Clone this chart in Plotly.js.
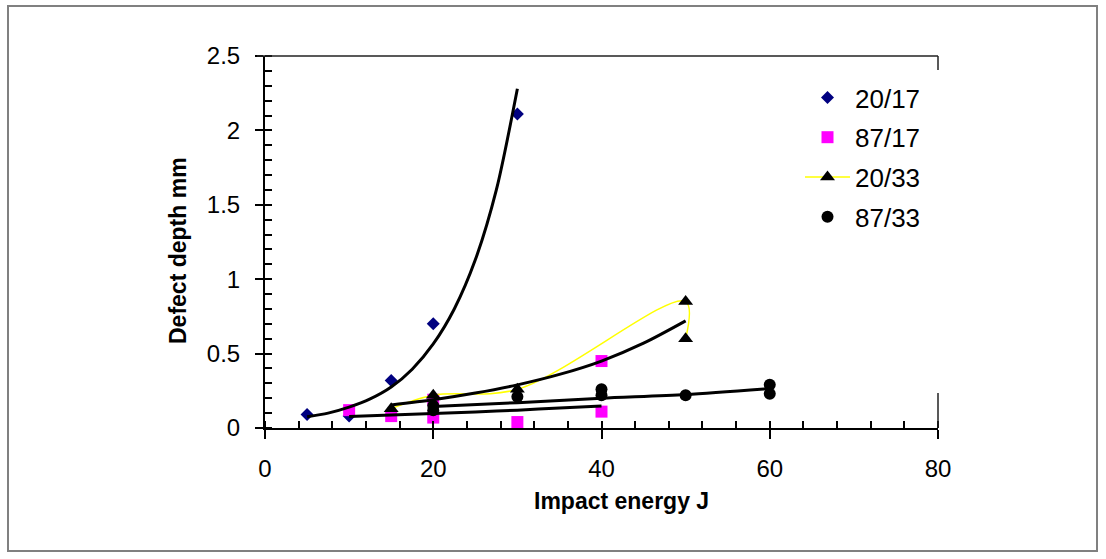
<!DOCTYPE html>
<html>
<head>
<meta charset="utf-8">
<script src="https://cdn.plot.ly/plotly-3.0.1.min.js"></script>
<style>html,body{margin:0;padding:0;background:#fff;}#chart{width:1106px;height:559px;}</style>
</head>
<body>
<div id="chart"></div>
<script>
// Measured data points
const x2017 = [5, 10, 15, 20, 30];
const y2017 = [0.09, 0.08, 0.32, 0.70, 2.11];
const x8717 = [10, 15, 20, 20, 30, 40, 40];
const y8717 = [0.12, 0.08, 0.19, 0.07, 0.04, 0.45, 0.11];
const x2033 = [15, 20, 30, 50, 50];
const y2033 = [0.13, 0.22, 0.26, 0.85, 0.60];
const x8733 = [20, 20, 30, 40, 40, 50, 60, 60];
const y8733 = [0.15, 0.12, 0.21, 0.26, 0.22, 0.22, 0.23, 0.29];

// Trendlines
const trendX2017 = [5, 7.5, 10, 12.5, 15, 17.5, 20, 22.5, 25, 27.5, 30];
const trendY2017 = [0.075, 0.10, 0.14, 0.195, 0.275, 0.395, 0.565, 0.80, 1.13, 1.60, 2.28];
const trendX2033 = [15, 20, 25, 30, 35, 40, 45, 50];
const trendY2033 = [0.155, 0.19, 0.235, 0.29, 0.36, 0.45, 0.57, 0.72];
const trendX8717 = [10, 15, 20, 25, 30, 35, 40];
const trendY8717 = [0.077, 0.087, 0.097, 0.108, 0.12, 0.134, 0.148];
const trendX8733 = [20, 30, 40, 50, 60];
const trendY8733 = [0.145, 0.17, 0.20, 0.225, 0.265];

const seriesNames = ['20/17', '87/17', '20/33', '87/33'];
const xTitle = 'Impact energy J';
const yTitle = 'Defect depth mm';
const FONT = 'Liberation Sans, Arial, sans-serif';

const trendStyle = {color: '#000000', width: 3, shape: 'spline', smoothing: 0.8};

const traces = [
  {x: x2017, y: y2017, name: seriesNames[0], legendgroup: 'a', mode: 'markers', type: 'scatter',
   marker: {symbol: 'diamond', size: 10, color: '#000080'}},
  {x: x8717, y: y8717, name: seriesNames[1], legendgroup: 'b', mode: 'markers', type: 'scatter',
   marker: {symbol: 'square', size: 12, color: '#FF00FF'}},
  {x: x2033, y: y2033, name: seriesNames[2], legendgroup: 'c', mode: 'lines+markers', type: 'scatter',
   line: {color: '#FFFF00', width: 1.5, shape: 'spline', smoothing: 1},
   marker: {symbol: 'triangle-up', size: 13, color: '#000000'}},
  {x: x8733, y: y8733, name: seriesNames[3], legendgroup: 'd', mode: 'markers', type: 'scatter',
   marker: {symbol: 'circle', size: 12, color: '#000000'}},
  {x: trendX2017, y: trendY2017, mode: 'lines', type: 'scatter', showlegend: false, legendgroup: 'a', line: trendStyle, hoverinfo: 'skip'},
  {x: trendX8717, y: trendY8717, mode: 'lines', type: 'scatter', showlegend: false, legendgroup: 'b', line: trendStyle, hoverinfo: 'skip'},
  {x: trendX2033, y: trendY2033, mode: 'lines', type: 'scatter', showlegend: false, legendgroup: 'c', line: trendStyle, hoverinfo: 'skip'},
  {x: trendX8733, y: trendY8733, mode: 'lines', type: 'scatter', showlegend: false, legendgroup: 'd', line: trendStyle, hoverinfo: 'skip'}
];

const L = 265, R = 938, T = 56, B = 428;
const W = 1106, H = 559;
const px = v => (v - L) / (R - L);
const py = v => (B - v) / (B - T);

const layout = {
  width: W, height: H,
  margin: {l: L, r: W - R, t: T, b: H - B, pad: 0},
  paper_bgcolor: '#ffffff', plot_bgcolor: '#ffffff',
  font: {family: FONT, color: '#000000', size: 24},
  showlegend: true,
  legend: {x: px(800), y: py(74), xanchor: 'left', yanchor: 'top',
           font: {family: FONT, size: 26, color: '#000'}, bgcolor: 'rgba(0,0,0,0)',
           traceorder: 'grouped', tracegroupgap: 3, itemwidth: 45, itemclick: false},
  xaxis: {
    range: [0, 80], tick0: 0, dtick: 20, showgrid: false, zeroline: false,
    showline: true, linecolor: '#000', linewidth: 2,
    ticks: 'outside', ticklen: 9, tickwidth: 2, tickcolor: '#000',
    minor: {dtick: 4, ticks: 'inside', ticklen: 7, tickwidth: 2, tickcolor: '#000', showgrid: false},
    tickfont: {family: FONT, size: 24, color: '#000'},
    ticklabelstandoff: 9
  },
  yaxis: {
    range: [0, 2.5], tick0: 0, dtick: 0.5, showgrid: false, zeroline: false,
    showline: true, linecolor: '#000', linewidth: 2,
    ticks: 'outside', ticklen: 8, tickwidth: 2, tickcolor: '#000',
    minor: {dtick: 0.1, ticks: 'inside', ticklen: 7, tickwidth: 2, tickcolor: '#000', showgrid: false},
    tickfont: {family: FONT, size: 24, color: '#000'},
    ticklabelstandoff: 10
  },
  annotations: [
    {text: '<b>' + xTitle + '</b>', xref: 'paper', yref: 'paper', x: px(621), y: py(501),
     xanchor: 'center', yanchor: 'middle', showarrow: false, font: {family: FONT, size: 23, color: '#000'}},
    {text: '<b>' + yTitle + '</b>', xref: 'paper', yref: 'paper', x: px(178), y: py(251),
     xanchor: 'center', yanchor: 'middle', textangle: -90, showarrow: false, font: {family: FONT, size: 23, color: '#000'}}
  ],
  shapes: [
    {type: 'rect', xref: 'paper', yref: 'paper', x0: px(8), x1: px(1097), y0: py(551), y1: py(6),
     line: {color: '#808080', width: 2}, fillcolor: 'rgba(0,0,0,0)', layer: 'below'},
    {type: 'line', xref: 'paper', yref: 'paper', x0: px(257), x1: 1, y0: 1, y1: 1,
     line: {color: '#222', width: 1.5}},
    {type: 'line', xref: 'paper', yref: 'paper', x0: 1, x1: 1, y0: 1, y1: py(70),
     line: {color: '#222', width: 1.5}},
    {type: 'line', xref: 'paper', yref: 'paper', x0: 1, x1: 1, y0: 0, y1: py(393),
     line: {color: '#222', width: 1.5}}
  ]
};

Plotly.newPlot('chart', traces, layout, {displayModeBar: false, staticPlot: true});
</script>
</body>
</html>
